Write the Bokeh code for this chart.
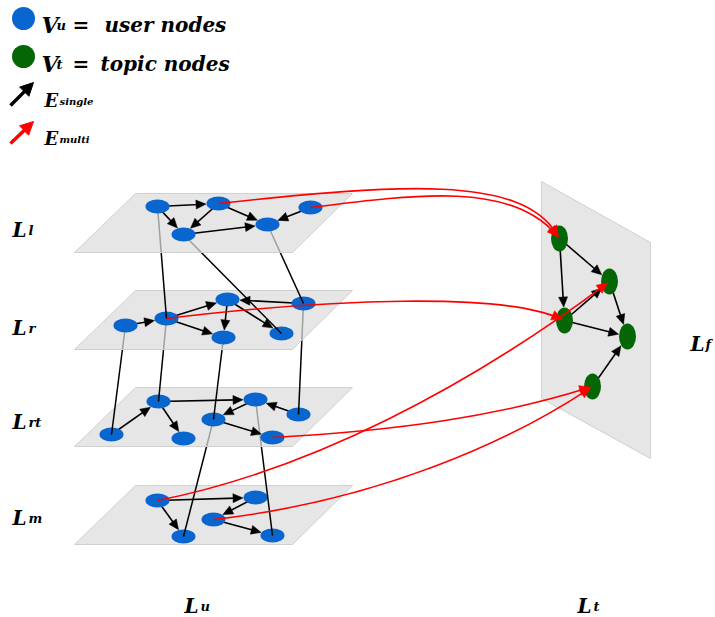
import math
from bokeh.plotting import figure
from bokeh.models import Range1d
from bokeh.embed import file_html
from bokeh.resources import INLINE
from bokeh.core.properties import value

# ---------------- data ----------------
# user layers, top to bottom
layer_subs = ["l", "r", "rt", "m"]
layer_tops = [193, 290, 387, 485]
layer_label_base = [229, 327, 421, 517]

ll_names = ["l1", "l2", "l3", "l4", "l5"]
ll_x = [157, 218, 183, 267, 310]
ll_y = [206, 203, 234, 224, 207]
ll_edges = [("l1", "l2"), ("l1", "l3"), ("l2", "l3"), ("l2", "l4"), ("l5", "l4"), ("l3", "l4")]

lr_names = ["r1", "r2", "r3", "r4", "r5", "r6"]
lr_x = [125, 166, 227, 303, 223, 281]
lr_y = [325, 318, 299, 303, 337, 333]
lr_edges = [("r1", "r2"), ("r2", "r3"), ("r2", "r5"), ("r3", "r5"), ("r4", "r3"), ("r3", "r6")]

lrt_names = ["t1", "t2", "t3", "t4", "t5", "t6", "t7"]
lrt_x = [111, 158, 183, 255, 213, 298, 272]
lrt_y = [434, 401, 438, 399, 419, 414, 437]
lrt_edges = [("t1", "t2"), ("t2", "t3"), ("t2", "t4"), ("t4", "t5"), ("t6", "t4"), ("t5", "t7")]

lm_names = ["m1", "m2", "m3", "m4", "m5"]
lm_x = [157, 255, 213, 183, 272]
lm_y = [500, 497, 519, 536, 535]
lm_edges = [("m1", "m2"), ("m1", "m4"), ("m2", "m3"), ("m3", "m5")]

# links between adjacent user layers (upper node, lower node)
links_l_r = [("l1", "r2"), ("l3", "r6"), ("l4", "r4")]
links_r_rt = [("r1", "t1"), ("r2", "t2"), ("r5", "t5"), ("r4", "t6")]
links_rt_m = [("t5", "m4"), ("t4", "m5")]

# topic layer
topic_names = ["g1", "g2", "g3", "g4", "g5"]
topic_x = [559, 609, 564, 627, 592]
topic_y = [238, 281, 320, 336, 386]
topic_edges = [("g1", "g3"), ("g1", "g2"), ("g3", "g2"), ("g3", "g4"), ("g2", "g4"), ("g5", "g4")]
topic_plane_x = [541, 650, 650, 541]
topic_plane_y = [181, 242, 458, 398]

# multi-layer edges (source, target, control point 1, control point 2)
multi_src = ["l2", "l5", "r2", "t7", "m1", "m3"]
multi_dst = ["g1", "g1", "g3", "g5", "g2", "g5"]
multi_c1x = [400, 420, 330, 400, 310, 380]
multi_c1y = [183, 193, 298, 430, 470, 500]
multi_c2x = [520, 510, 500, 500, 470, 510]
multi_c2y = [175, 182, 292, 415, 385, 440]

BLUE = "#0a66cf"
GREEN = "#056605"
RED = "#ff0000"
FONT = value("DejaVu Serif")

pos = {}
for names, xs, ys in [(ll_names, ll_x, ll_y), (lr_names, lr_x, lr_y), (lrt_names, lrt_x, lrt_y),
                      (lm_names, lm_x, lm_y), (topic_names, topic_x, topic_y)]:
    for n, x, y in zip(names, xs, ys):
        pos[n] = (x, y)

p = figure(width=715, height=617, x_range=Range1d(0, 715), y_range=Range1d(617, 0),
           output_backend="svg", toolbar_location=None, min_border=0,
           x_axis_type=None, y_axis_type=None, outline_line_color=None)
p.grid.visible = False


def head(tx, ty, ux, uy, L, W):
    nx, ny = -uy, ux
    bx, by = tx - L * ux, ty - L * uy
    return [tx, bx + W * nx, bx - W * nx], [ty, by + W * ny, by - W * ny]


def draw_arrows(edges, a, b, L=10, W=4.5):
    x0s, y0s, x1s, y1s, hx, hy = [], [], [], [], [], []
    for s, t in edges:
        xs_, ys_ = pos[s]
        xt, yt = pos[t]
        dx, dy = xt - xs_, yt - ys_
        d = math.hypot(dx, dy)
        ux, uy = dx / d, dy / d
        r = 1.0 / math.sqrt((ux / a) ** 2 + (uy / b) ** 2)
        tx, ty = xt - ux * (r + 0.5), yt - uy * (r + 0.5)
        x0s.append(xs_); y0s.append(ys_)
        x1s.append(tx - ux * L * 0.7); y1s.append(ty - uy * L * 0.7)
        h = head(tx, ty, ux, uy, L, W)
        hx.append(h[0]); hy.append(h[1])
    p.segment(x0s, y0s, x1s, y1s, line_color="black", line_width=1.6)
    p.patches(hx, hy, fill_color="black", line_color="black", line_width=0.5)


def draw_links(links):
    x0 = [pos[s][0] for s, t in links]
    y0 = [pos[s][1] for s, t in links]
    x1 = [pos[t][0] for s, t in links]
    y1 = [pos[t][1] for s, t in links]
    p.segment(x0, y0, x1, y1, line_color="black", line_width=1.5)


def draw_plane(top):
    bot = top + 59
    p.patch([135, 352, 292, 74], [top, top, bot, bot], fill_color="#dcdcdc", fill_alpha=0.72,
            line_color="#d0d0d0", line_width=1)


layers = [(ll_names, ll_edges), (lr_names, lr_edges), (lrt_names, lrt_edges), (lm_names, lm_edges)]
links_into = [None, links_l_r, links_r_rt, links_rt_m]

for i in [3, 2, 1, 0]:
    names, edges = layers[i]
    draw_plane(layer_tops[i])
    draw_arrows(edges, 12, 7)
    p.ellipse([pos[n][0] for n in names], [pos[n][1] for n in names], width=24, height=14,
              fill_color=BLUE, line_color=None)
    if links_into[i] is not None:
        draw_links(links_into[i])

# topic plane
p.patch(topic_plane_x, topic_plane_y, fill_color="#dcdcdc", fill_alpha=0.72, line_color="#d0d0d0", line_width=1)
draw_arrows(topic_edges, 8.5, 13)
p.ellipse(topic_x, topic_y, width=17, height=26, fill_color=GREEN, line_color=None)

# multi-layer red curves
bx0, by0, bx1, by1, c0x, c0y, c1x, c1y, rhx, rhy = [], [], [], [], [], [], [], [], [], []
for s, t, a1, b1, a2, b2 in zip(multi_src, multi_dst, multi_c1x, multi_c1y, multi_c2x, multi_c2y):
    xs_, ys_ = pos[s]
    xt, yt = pos[t]
    dx, dy = xt - a2, yt - b2
    d = math.hypot(dx, dy)
    ux, uy = dx / d, dy / d
    ex, ey = xt - 2 * ux, yt - 2 * uy
    bx0.append(xs_); by0.append(ys_); bx1.append(ex - 4 * ux); by1.append(ey - 4 * uy)
    c0x.append(a1); c0y.append(b1); c1x.append(a2); c1y.append(b2)
    h = head(ex, ey, ux, uy, 11, 5)
    rhx.append(h[0]); rhy.append(h[1])
p.bezier(x0=bx0, y0=by0, x1=bx1, y1=by1, cx0=c0x, cy0=c0y, cx1=c1x, cy1=c1y,
         line_color=RED, line_width=1.6)
p.patches(rhx, rhy, fill_color=RED, line_color=RED, line_width=0.5)

# ---------------- legend ----------------
p.scatter([23, 23], [18, 56], size=23, fill_color=[BLUE, GREEN], line_color=None)
# legend arrows
for (x0, y0, x1, y1, col) in [(10, 105, 33, 82, "black"), (10, 143, 33, 121, RED)]:
    dx, dy = x1 - x0, y1 - y0
    d = math.hypot(dx, dy)
    ux, uy = dx / d, dy / d
    p.segment([x0], [y0], [x1 - ux * 9], [y1 - uy * 9], line_color=col, line_width=3.5)
    h = head(x1, y1, ux, uy, 13, 6.5)
    p.patch(h[0], h[1], fill_color=col, line_color=col)


def txt(x, y, s, size):
    p.text([x], [y], text=[s], text_font=FONT, text_font_style="bold italic",
           text_font_size=size, text_baseline="alphabetic", text_align="left", text_color="black")


txt(41, 24, "V", "22px"); txt(56, 25, "u", "13px"); txt(72, 24, "=", "20px"); txt(104, 24, "user nodes", "20px")
txt(41, 63, "V", "22px"); txt(56, 64, "t", "13px"); txt(72, 63, "=", "20px"); txt(100, 63, "topic nodes", "20px")
txt(44, 100, "E", "18px"); txt(59, 101, "single", "10px")
txt(44, 138, "E", "18px"); txt(59, 139, "multi", "10px")

for sub, base in zip(layer_subs, layer_label_base):
    txt(12, base, "L", "20px"); txt(28, base + 1, sub, "13px")
txt(690, 343, "L", "20px"); txt(705, 344, "f", "13px")
txt(184, 605, "L", "20px"); txt(200, 606, "u", "13px")
txt(577, 605, "L", "20px"); txt(593, 606, "t", "13px")

open("out.html", "w").write(file_html(p, INLINE))
